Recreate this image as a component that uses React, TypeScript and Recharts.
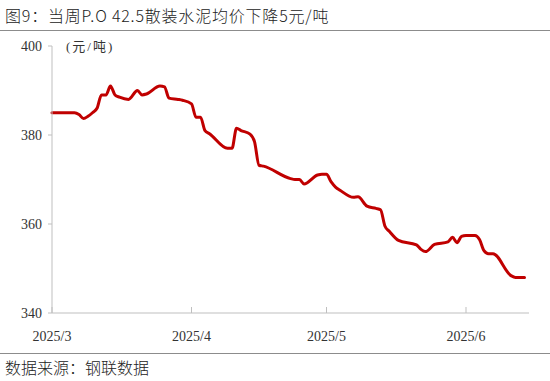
import React from "react";
import { LineChart, Line, XAxis, YAxis } from "recharts";

const dates = [
  "2025-03-01", "2025-03-06", "2025-03-07", "2025-03-08", "2025-03-09", "2025-03-10",
  "2025-03-11", "2025-03-12", "2025-03-13", "2025-03-14", "2025-03-15", "2025-03-16",
  "2025-03-18", "2025-03-20", "2025-03-21", "2025-03-22", "2025-03-25", "2025-03-26",
  "2025-03-27", "2025-03-29", "2025-03-30", "2025-04-01", "2025-04-02", "2025-04-03",
  "2025-04-04", "2025-04-05", "2025-04-09", "2025-04-10", "2025-04-11", "2025-04-12",
  "2025-04-14", "2025-04-15", "2025-04-16", "2025-04-17", "2025-04-23", "2025-04-24",
  "2025-04-25", "2025-04-26", "2025-04-29", "2025-04-30", "2025-05-01", "2025-05-02",
  "2025-05-03", "2025-05-04", "2025-05-07", "2025-05-08", "2025-05-10", "2025-05-12",
  "2025-05-13", "2025-05-14", "2025-05-15", "2025-05-17", "2025-05-21", "2025-05-22",
  "2025-05-23", "2025-05-25", "2025-05-28", "2025-05-29", "2025-05-30", "2025-05-31",
  "2025-06-01", "2025-06-03", "2025-06-04", "2025-06-05", "2025-06-06", "2025-06-07",
  "2025-06-11", "2025-06-12", "2025-06-14",
];

const prices = [
  385, 385, 384.6, 383.7, 384.2, 385,
  386, 389, 389, 391, 389, 388.5,
  388, 390, 389, 389.2, 391, 390.8,
  388.3, 388, 387.8, 387, 384, 384,
  381, 380.3, 377, 377, 381.5, 381,
  380.2, 378.5, 373.2, 373, 370.2, 370,
  370, 369, 371, 371.2, 371.2, 369.5,
  368.3, 367.6, 366, 366.1, 364, 363.5,
  363.2, 359.5, 358.3, 356.3, 355.3, 354.3,
  353.8, 355.4, 356, 357, 355.8, 357.2,
  357.4, 357.4, 356.5, 354, 353.3, 353.3,
  348.4, 348, 348,
];

const monthTicks = ["2025-03-01", "2025-04-01", "2025-05-01", "2025-06-01"];
const monthLabels = ["2025/3", "2025/4", "2025/5", "2025/6"];
const yTicks = [340, 360, 380, 400];

const BASE = Date.UTC(2025, 2, 1);
const toDay = (s: string) => {
  const [y, m, d] = s.split("-").map(Number);
  return (Date.UTC(y, m - 1, d) - BASE) / 86400000;
};

const data = dates.map((d, i) => ({ day: toDay(d), price: prices[i] }));
const xTickValues = monthTicks.map(toDay);

const TICK_MARGIN = 18;

const XTick = (props: any) => {
  const { x, y, payload } = props;
  const idx = xTickValues.indexOf(payload.value);
  const axisY = y - TICK_MARGIN;
  return (
    <g>
      <line x1={x} x2={x} y1={axisY} y2={axisY - 6} stroke="#BFBFBF" strokeWidth={1} />
      <text
        x={x}
        y={y}
        dy="0.71em"
        textAnchor="middle"
        fontFamily="'Liberation Serif', serif"
        fontSize={14}
        fill="#333"
      >
        {idx >= 0 ? monthLabels[idx] : ""}
      </text>
    </g>
  );
};

export default function App() {
  return (
    <div
      style={{
        position: "absolute",
        left: 0,
        top: 0,
        width: 550,
        height: 381,
        background: "#fff",
        overflow: "hidden",
      }}
    >
      <div
        style={{
          position: "absolute",
          left: 5,
          top: 4,
          fontFamily: "'Noto Sans CJK SC', sans-serif",
          fontWeight: 300,
          fontSize: 16,
          lineHeight: "22px",
          letterSpacing: 0.8,
          color: "#222",
          whiteSpace: "nowrap",
        }}
      >
        图9：当周P.O 42.5散装水泥均价下降5元/吨
      </div>
      <div
        style={{
          position: "absolute",
          left: 0,
          top: 30,
          width: 550,
          height: 0,
          borderTop: "1.5px solid #8c8c8c",
        }}
      />
      <div style={{ position: "absolute", left: 0, top: 0 }}>
        <LineChart
          width={550}
          height={381}
          data={data}
          margin={{ top: 46, right: 21, bottom: 38, left: 0 }}
        >
          <XAxis
            dataKey="day"
            type="number"
            domain={[0, 106]}
            ticks={xTickValues}
            interval={0}
            height={30}
            axisLine={{ stroke: "#BFBFBF" }}
            tickLine={false}
            tickSize={0}
            tickMargin={TICK_MARGIN}
            tick={<XTick />}
          />
          <YAxis
            type="number"
            domain={[340, 400]}
            ticks={yTicks}
            interval={0}
            width={52}
            axisLine={{ stroke: "#BFBFBF" }}
            tickLine={{ stroke: "#BFBFBF" }}
            tickSize={4}
            tickMargin={6}
            tick={{ fontFamily: "'Liberation Serif', serif", fontSize: 14, fill: "#333" }}
          />
          <Line
            type="monotone"
            dataKey="price"
            stroke="#C00000"
            strokeWidth={3}
            strokeLinejoin="round"
            strokeLinecap="round"
            dot={false}
            isAnimationActive={false}
          />
        </LineChart>
      </div>
      <div
        style={{
          position: "absolute",
          left: 66,
          top: 38,
          fontFamily: "'Liberation Serif', 'Noto Sans CJK SC', serif",
          fontSize: 13,
          lineHeight: "18px",
          letterSpacing: 2,
          color: "#333",
          whiteSpace: "nowrap",
        }}
      >
        (元/吨)
      </div>
      <div
        style={{
          position: "absolute",
          left: 0,
          top: 353,
          width: 550,
          height: 0,
          borderTop: "1.5px solid #8c8c8c",
        }}
      />
      <div
        style={{
          position: "absolute",
          left: 5,
          top: 356,
          fontFamily: "'Noto Sans CJK SC', sans-serif",
          fontWeight: 300,
          fontSize: 16,
          lineHeight: "22px",
          color: "#222",
          whiteSpace: "nowrap",
        }}
      >
        数据来源：钢联数据
      </div>
    </div>
  );
}
